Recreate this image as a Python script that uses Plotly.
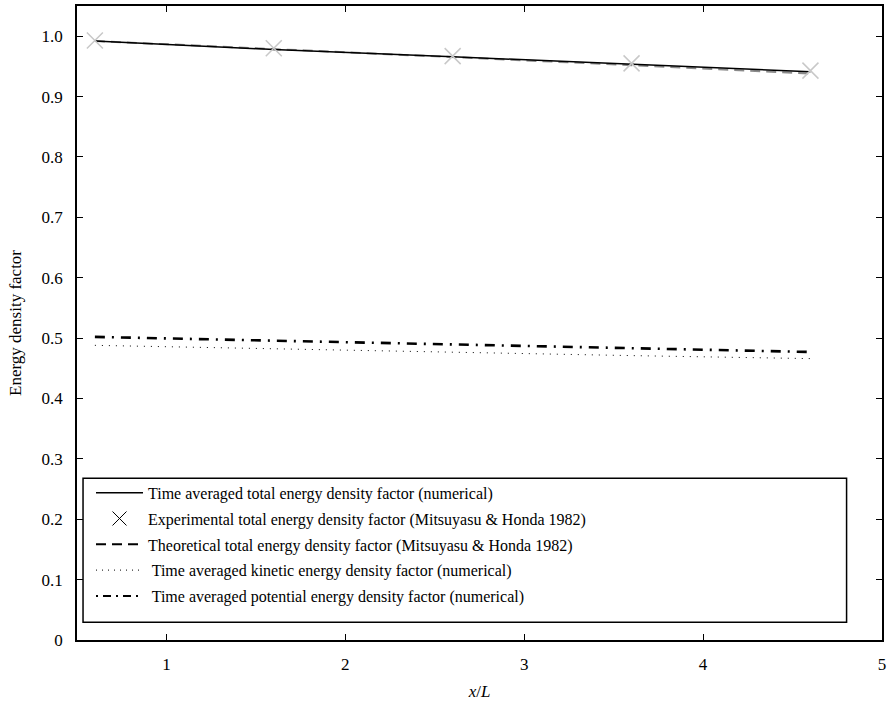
import plotly.graph_objects as go

x_pos = [0.6, 1.6, 2.6, 3.6, 4.6]
total_numerical = [0.992, 0.978, 0.966, 0.953, 0.941]
total_experimental = [0.993, 0.980, 0.967, 0.955, 0.943]
total_theoretical = [0.992, 0.979, 0.965, 0.952, 0.938]
kinetic_numerical = [0.488, 0.482, 0.476, 0.471, 0.466]
potential_numerical = [0.502, 0.496, 0.489, 0.483, 0.477]

y_tickvals = [0, 0.1, 0.2, 0.3, 0.4, 0.5, 0.6, 0.7, 0.8, 0.9, 1.0]
y_ticktext = ["0", "0.1", "0.2", "0.3", "0.4", "0.5", "0.6", "0.7", "0.8", "0.9", "1.0"]
x_tickvals = [1, 2, 3, 4, 5]

names = [
    "Time averaged total energy density factor (numerical)",
    "Experimental total energy density factor (Mitsuyasu & Honda 1982)",
    "Theoretical total energy density factor (Mitsuyasu & Honda 1982)",
    " Time averaged kinetic energy density factor (numerical)",
    " Time averaged potential energy density factor (numerical)",
]

FONT = "Liberation Serif"
DASHDOT = "10px,7px,2px,7px"

fig = go.Figure()

# plotted traces
fig.add_trace(go.Scatter(x=x_pos, y=kinetic_numerical, mode="lines",
                         line=dict(color="black", width=1, dash="1px,6px"), showlegend=False))
fig.add_trace(go.Scatter(x=x_pos, y=potential_numerical, mode="lines",
                         line=dict(color="black", width=2.6, dash=DASHDOT), showlegend=False))
fig.add_trace(go.Scatter(x=x_pos, y=total_theoretical, mode="lines",
                         line=dict(color="#8a8a8a", width=2, dash="10px,6px"), showlegend=False))
fig.add_trace(go.Scatter(x=x_pos, y=total_numerical, mode="lines",
                         line=dict(color="black", width=1.5), showlegend=False))
fig.add_trace(go.Scatter(x=x_pos, y=total_experimental, mode="markers",
                         marker=dict(symbol="x-thin-open", size=16, color="#c8c8c8",
                                     line=dict(color="#c8c8c8", width=1.5)), showlegend=False))

# legend-only entries (black symbols)
fig.add_trace(go.Scatter(x=[None], y=[None], mode="lines", name=names[0], legendgroup="a",
                         line=dict(color="black", width=1.5)))
fig.add_trace(go.Scatter(x=[None], y=[None], mode="markers", name=names[1], legendgroup="b",
                         marker=dict(symbol="x-thin-open", size=14, color="black",
                                     line=dict(color="black", width=1))))
fig.add_trace(go.Scatter(x=[None], y=[None], mode="lines", name=names[2], legendgroup="c",
                         line=dict(color="black", width=2, dash="10px,6px")))
fig.add_trace(go.Scatter(x=[None], y=[None], mode="lines", name=names[3], legendgroup="d",
                         line=dict(color="black", width=1, dash="1px,5px")))
fig.add_trace(go.Scatter(x=[None], y=[None], mode="lines", name=names[4], legendgroup="e",
                         line=dict(color="black", width=2, dash="2px,5px,8px,5px")))

fig.update_layout(
    width=892, height=703,
    margin=dict(l=77, r=10, t=4, b=63),
    paper_bgcolor="white", plot_bgcolor="white",
    font=dict(family=FONT, size=16, color="black"),
    showlegend=True,
    legend=dict(x=0.0174, y=0.259, xanchor="left", yanchor="top",
                bgcolor="rgba(0,0,0,0)", borderwidth=0,
                font=dict(family=FONT, size=16, color="black"),
                itemwidth=47, tracegroupgap=2, traceorder="grouped"),
    shapes=[dict(type="rect", xref="paper", yref="paper",
                 x0=0.0075, x1=0.956, y0=0.028, y1=0.255,
                 line=dict(color="black", width=1.5), fillcolor="white", layer="below")],
)

fig.update_xaxes(range=[0.5, 5], tickvals=x_tickvals, ticks="inside", ticklen=6,
                 tickcolor="black", tickwidth=1, showline=True, linecolor="black",
                 linewidth=1.5, mirror="ticks", showgrid=False, zeroline=False,
                 tickfont=dict(family=FONT, size=17), ticklabelstandoff=8,
                 title=dict(text="<i>x</i>/<i>L</i>", font=dict(family=FONT, size=17), standoff=12))
fig.update_yaxes(range=[0, 1.05], tickvals=y_tickvals, ticktext=y_ticktext, ticks="inside",
                 ticklen=6, tickcolor="black", tickwidth=1, showline=True, linecolor="black",
                 linewidth=1.5, mirror="ticks", showgrid=False, zeroline=False,
                 tickfont=dict(family=FONT, size=17), ticklabelstandoff=9,
                 title=dict(text="Energy density factor", font=dict(family=FONT, size=17), standoff=16))

fig.write_html("out.html")
